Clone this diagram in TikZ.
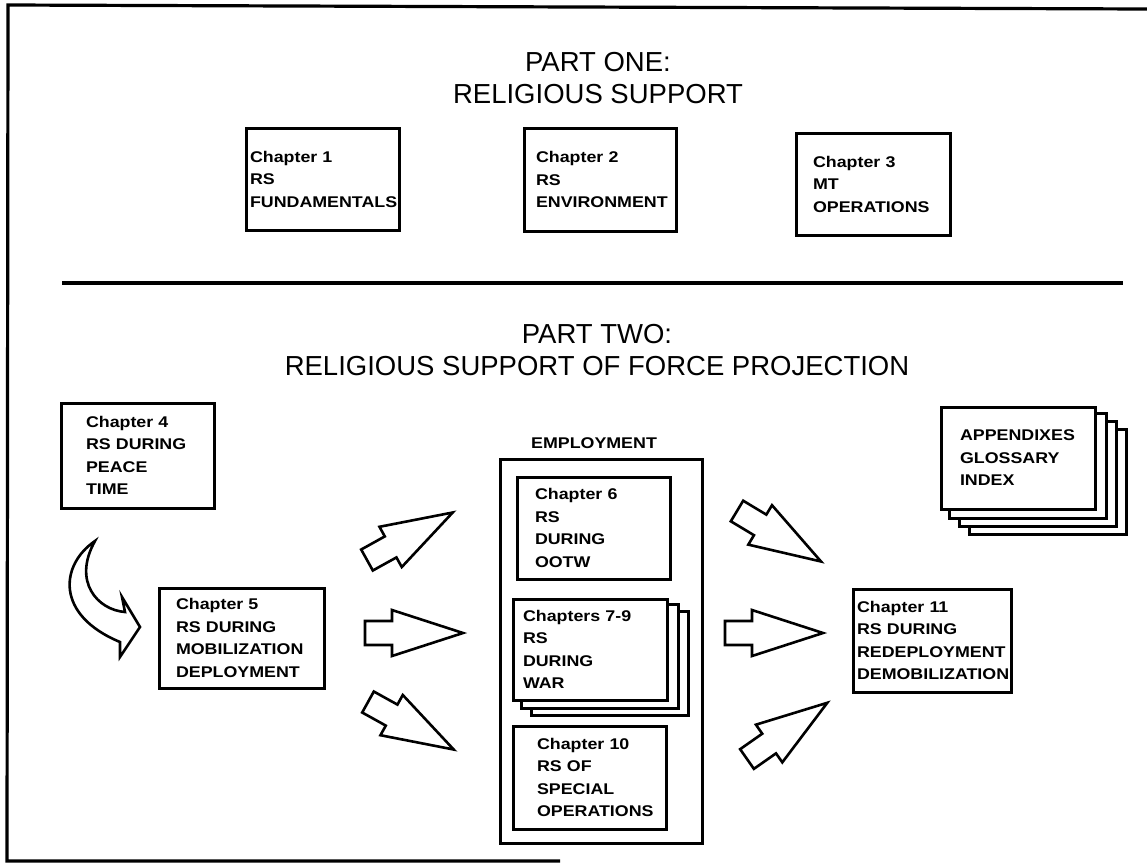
\documentclass[tikz,border=0pt]{standalone}
\usepackage{fontspec}
\setmainfont{Liberation Sans}
\newfontfamily\chapfamily[FakeStretch=1.15]{Liberation Sans}
\newcommand{\chapfont}{\chapfamily\bfseries\fontsize{15.5}{22.5}\selectfont}
\newcommand{\parttitlefont}{\fontsize{27.5}{32}\selectfont}
\usetikzlibrary{backgrounds,calc}

\tikzset{
	chapbox/.style={draw, line width=3pt, fill=white, align=left, inner ysep=0pt, font=\chapfont},
	sheet/.style={draw, line width=2.4pt, fill=white},
	parttitle/.style={align=center, inner sep=0pt, font=\parttitlefont},
	frameline/.style={line width=3.2pt},
	bigarrow/.pic={\draw[line width=2.6pt, line join=miter] (0,-12) -- (27,-12) -- (27,-23) -- (98,0) -- (27,23) -- (27,12) -- (0,12) -- cycle;}
}

\begin{document}
\begin{tikzpicture}[x=1pt, y=-1pt]
				\useasboundingbox (0,0) rectangle (1147,863);
				\draw[frameline] (1147,9) -- (8,5) -- (7,861) -- (560,861);
				\node[parttitle] (part1) at (598,78) {PART ONE:\\RELIGIOUS SUPPORT};
				\node[chapbox, minimum height=102pt, text width=145pt, inner xsep=4pt] (ch1) at (322.5,179) {Chapter 1\\RS\\FUNDAMENTALS};
				\node[chapbox, minimum height=103pt, text width=128pt, inner xsep=12pt] (ch2) at (600,179.5) {Chapter 2\\RS\\ENVIRONMENT};
				\node[chapbox, minimum height=102pt, text width=120pt, inner xsep=17pt] (ch3) at (873,184) {Chapter 3\\MT\\OPERATIONS};
				\draw[frameline] (62,283) -- (1123,283);
				\node[parttitle] (part2) at (597,350) {PART TWO:\\RELIGIOUS SUPPORT OF FORCE PROJECTION};
				\node[chapbox, minimum height=105pt, text width=103pt, inner xsep=25pt] (ch4) at (137.5,455.5) {Chapter 4\\RS DURING\\PEACE\\TIME};
				\node[chapbox, minimum height=100pt, text width=131pt, inner xsep=17pt] (ch5) at (241.5,638) {Chapter 5\\RS DURING\\MOBILIZATION\\DEPLOYMENT};
				\node[draw, line width=3pt, minimum width=202pt, minimum height=384pt] (employ) at (601,651) {};
				\node[font=\chapfont, anchor=base] (emplabel) at (594,448) {EMPLOYMENT};
				\node[chapbox, minimum height=102pt, text width=117pt, inner xsep=18pt] (ch6) at (593.5,528) {Chapter 6\\RS\\DURING\\OOTW};
				\node[chapbox, minimum height=101pt, text width=134pt, inner xsep=10pt] (ch79) at (590,649.5) {Chapters 7-9\\RS\\DURING\\WAR};
				\node[chapbox, minimum height=103pt, text width=105pt, inner xsep=24pt] (ch10) at (589.5,777.5) {Chapter 10\\RS OF\\SPECIAL\\OPERATIONS};
				\node[chapbox, minimum height=103pt, text width=150pt, inner xsep=4pt] (ch11) at (932,640.5) {Chapter 11\\RS DURING\\REDEPLOYMENT\\DEMOBILIZATION};
				\node[chapbox, minimum height=102pt, text width=116pt, inner xsep=19pt] (app) at (1018,458) {APPENDIXES\\GLOSSARY\\INDEX};
				\begin{scope}[on background layer]
					\foreach \d in {2,1}
						\draw[sheet] ($(ch79.north west)+(\d*10,\d*7)$) rectangle ($(ch79.south east)+(\d*10,\d*7)$);
					\foreach \d in {3,2,1}
						\draw[sheet] ($(app.north west)+(\d*10,\d*8)$) rectangle ($(app.south east)+(\d*10,\d*8)$);
				\end{scope}
				\draw[line width=2.6pt, line join=miter] (95,541) .. controls (60,565) and (55,615) .. (120,642) -- (120,657) -- (140,627) -- (122,597) -- (125,612) .. controls (98,610) and (72,582) .. (95,541) -- cycle;
				\pic[rotate=29] at (367,560) {bigarrow};
				\pic at (365,633) {bigarrow};
				\pic[rotate=-29] at (368,702) {bigarrow};
				\pic[rotate=-31] at (737,511) {bigarrow};
				\pic at (725,633) {bigarrow};
				\pic[rotate=35] at (747,759) {bigarrow};
			\end{tikzpicture}
\end{document}
